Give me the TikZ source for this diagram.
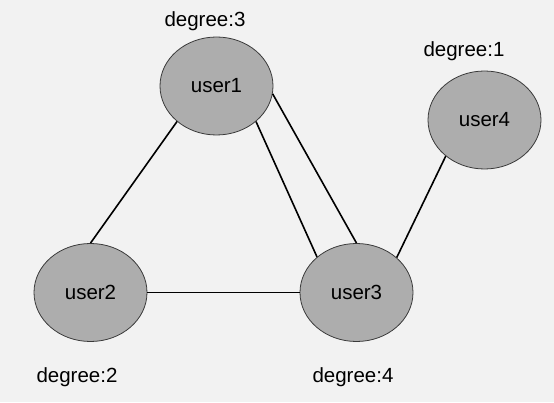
\documentclass[tikz,border=0pt]{standalone}
\usepackage{fontspec}
\setmainfont{Liberation Sans}
\usetikzlibrary{shapes.geometric}
\begin{document}
\begin{tikzpicture}[x=1pt,y=1pt,font=\fontsize{20.5}{24}\selectfont,
  usernode/.style={ellipse,draw=nodeborder,line width=0.8pt,fill=nodefill,inner sep=0pt,minimum width=113pt,minimum height=98pt},
  degreelabel/.style={inner sep=0pt},
  link/.style={black,line width=1.6pt}]
\definecolor{canvasgrey}{HTML}{F2F2F2}
\definecolor{nodefill}{HTML}{ADADAD}
\definecolor{nodeborder}{HTML}{3A3A3A}
\fill[canvasgrey] (0,0) rectangle (554,402);
\useasboundingbox (0,0) rectangle (554,402);
\node[usernode] (user1) at (216.5,316) {user1};
\node[usernode] (user2) at (90.5,109.5) {user2};
\node[usernode] (user3) at (356.5,109.5) {user3};
\node[usernode] (user4) at (484.5,282) {user4};
\node[degreelabel] (deg1) at (205,381) {degree:3};
\node[degreelabel] (deg4) at (464,351) {degree:1};
\node[degreelabel] (deg2) at (77,25) {degree:2};
\node[degreelabel] (deg3) at (353,25) {degree:4};
\draw[link] (user1.222) -- (user2.north);
\draw[link] (user1.318) -- (user3.138);
\draw[link] (user1.352) -- (user3.north);
\draw[link] (user2.east) -- (user3.west);
\draw[link] (user3.41) -- (user4.223);
\end{tikzpicture}
\end{document}
